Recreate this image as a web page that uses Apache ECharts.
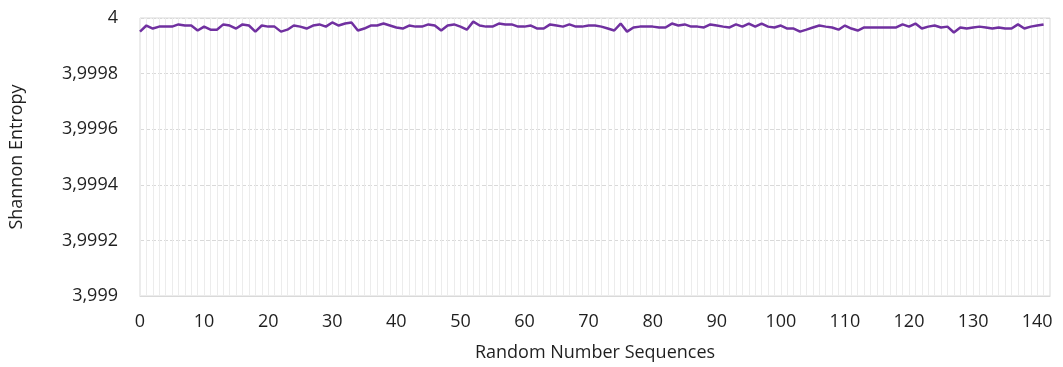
<!DOCTYPE html>
<html>
<head>
<meta charset="utf-8">
<script src="https://cdn.jsdelivr.net/npm/echarts@6/dist/echarts.min.js"></script>
<style>html,body{margin:0;padding:0;background:#fff}#c{width:1063px;height:367px}</style>
</head>
<body>
<div id="c"></div>
<script>
// Shannon entropy per random number sequence (index 0..141)
const entropy = [
3.999951,3.999973,3.999962,3.999969,3.999969,3.999969,3.999977,3.999973,3.999973,3.999955,
3.999969,3.999958,3.999958,3.999977,3.999973,3.999962,3.999977,3.999973,3.999951,3.999973,
3.999969,3.999969,3.999951,3.999958,3.999973,3.999969,3.999962,3.999973,3.999977,3.999969,
3.999984,3.999973,3.999980,3.999984,3.999955,3.999962,3.999973,3.999973,3.999980,3.999973,
3.999966,3.999962,3.999973,3.999969,3.999969,3.999977,3.999973,3.999955,3.999973,3.999977,
3.999969,3.999958,3.999987,3.999973,3.999969,3.999969,3.999980,3.999977,3.999977,3.999969,
3.999969,3.999973,3.999962,3.999962,3.999977,3.999973,3.999969,3.999977,3.999969,3.999969,
3.999973,3.999973,3.999969,3.999962,3.999955,3.999980,3.999951,3.999966,3.999969,3.999969,
3.999969,3.999966,3.999966,3.999980,3.999973,3.999977,3.999969,3.999969,3.999966,3.999977,
3.999973,3.999969,3.999966,3.999977,3.999969,3.999980,3.999969,3.999980,3.999969,3.999966,
3.999973,3.999962,3.999962,3.999951,3.999958,3.999966,3.999973,3.999969,3.999966,3.999958,
3.999973,3.999962,3.999955,3.999966,3.999966,3.999966,3.999966,3.999966,3.999966,3.999977,
3.999969,3.999980,3.999962,3.999969,3.999973,3.999966,3.999969,3.999948,3.999966,3.999962,
3.999966,3.999969,3.999966,3.999962,3.999966,3.999962,3.999962,3.999977,3.999962,3.999969,
3.999973,3.999977
];
const xMaxCategory = 142; // axis runs 0..142
const categories = [];
for (let i = 0; i <= xMaxCategory; i++) categories.push(String(i));
const yMin = 3.999, yMax = 4, yStep = 0.0002;
const xName = 'Random Number Sequences';
const yName = 'Shannon Entropy';

const font = '"Open Sans", "Noto Sans", sans-serif';
const chart = echarts.init(document.getElementById('c'));
chart.setOption({
  animation: false,
  grid: { left: 140, right: 13, top: 18, bottom: 70, show: true, borderColor: '#d9d9d9', borderWidth: 1 },
  xAxis: {
    type: 'category', data: categories, boundaryGap: false,
    name: xName, nameLocation: 'middle', nameGap: 48,
    nameTextStyle: { fontFamily: font, fontSize: 18, color: '#1f1f1f' },
    axisLine: { show: true, lineStyle: { color: '#d9d9d9' } },
    axisTick: { show: false },
    axisLabel: { interval: 9, margin: 17, fontFamily: font, fontSize: 18, color: '#1f1f1f' },
    splitLine: { show: true, interval: 0, lineStyle: { color: '#ececec', width: 1 } }
  },
  yAxis: {
    type: 'value', min: yMin, max: yMax, interval: yStep,
    name: yName, nameLocation: 'middle', nameGap: 114, nameRotate: 90,
    nameTextStyle: { fontFamily: font, fontSize: 18, color: '#1f1f1f' },
    axisLine: { show: false }, axisTick: { show: false },
    axisLabel: { margin: 22, fontFamily: font, fontSize: 18, color: '#1f1f1f',
      formatter: v => parseFloat(v.toFixed(4)).toString().replace('.', ',') },
    splitLine: { show: true, lineStyle: { color: '#d9d9d9', type: 'dashed' } }
  },
  series: [{
    type: 'line', data: entropy, showSymbol: false,
    lineStyle: { color: '#7030a0', width: 2.5 }, itemStyle: { color: '#7030a0' }
  }]
});
</script>
</body>
</html>
